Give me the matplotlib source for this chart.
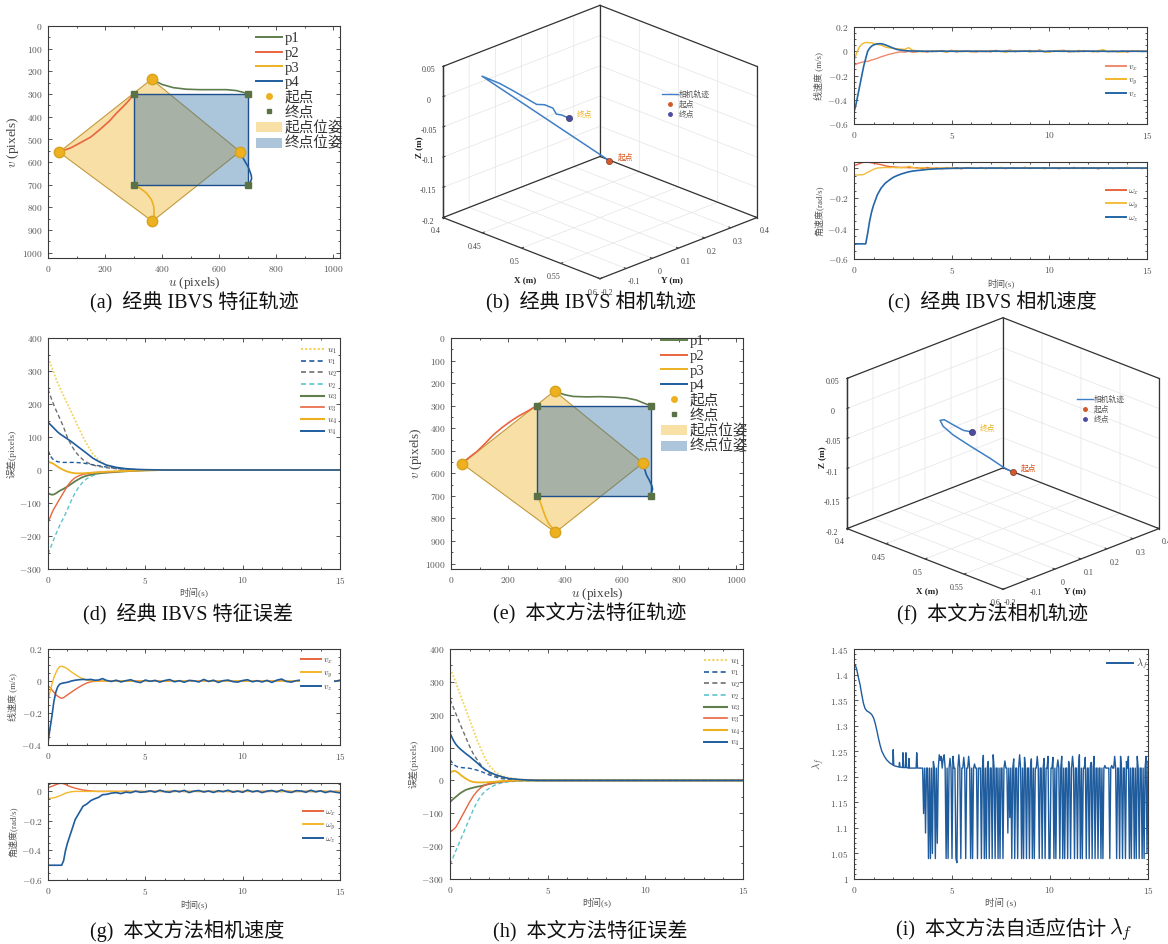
import numpy as np
import matplotlib
matplotlib.use('Agg')
import matplotlib.pyplot as plt
from matplotlib.patches import Polygon, Patch
from matplotlib.lines import Line2D
from matplotlib.ticker import AutoMinorLocator, FuncFormatter

plt.rcParams['font.family'] = ['Liberation Serif', 'Noto Sans CJK SC']
plt.rcParams['mathtext.fontset'] = 'cm'
plt.rcParams['axes.unicode_minus'] = True

# ======================= DATA =======================
# --- feature trajectories (pixels) ---
start_u = [363, 39, 366, 673]
start_v = [235, 557, 862, 554]
end_u = [700, 300, 300, 700]
end_v = [300, 300, 700, 700]

a_p1_u = [372, 400, 439, 485, 532, 580, 626, 660, 685, 700]
a_p1_v = [240, 258, 272, 279, 281, 281, 281, 285, 293, 300]
a_p2_u = [45, 80, 111, 150, 181, 215, 240, 260, 275, 288, 298]
a_p2_v = [553, 538, 517, 490, 458, 420, 385, 360, 341, 322, 302]
a_p3_u = [371, 372, 371, 363, 345, 322, 304]
a_p3_v = [850, 833, 796, 767, 737, 715, 703]
a_p4_u = [675, 685, 694, 702, 708, 713, 714, 708, 700]
a_p4_v = [560, 585, 605, 622, 642, 660, 675, 693, 700]

e_p1_u = [372, 400, 429, 475, 522, 570, 615, 650, 675, 695]
e_p1_v = [240, 252, 259, 261, 260, 262, 266, 275, 288, 298]
e_p2_u = [44, 65, 91, 120, 149, 178, 207, 236, 266, 285, 298]
e_p2_v = [550, 528, 503, 467, 429, 398, 371, 347, 326, 312, 302]
e_p3_u = [365, 352, 341, 332, 324, 318, 312, 305, 300]
e_p3_v = [856, 838, 819, 795, 768, 745, 724, 708, 701]
e_p4_u = [674, 679, 685, 696, 705, 707, 705, 700]
e_p4_v = [555, 580, 606, 632, 657, 670, 679, 695]

# --- camera trajectories (m) ---
b_X = [0.512, 0.416, 0.427, 0.435, 0.460, 0.464, 0.469, 0.475, 0.481, 0.486]
b_Y = [0.100, -0.099, -0.064, -0.037, -0.022, -0.004, 0.013, 0.008, 0.011, 0.024]
b_Z = [-0.100, 0.025, 0.0125, 0.000, -0.0125, -0.014, -0.020, -0.026, -0.025, -0.030]

f_X = [0.512, 0.503, 0.495, 0.482, 0.470, 0.464, 0.462, 0.466, 0.478, 0.491, 0.494]
f_Y = [0.101, 0.092, 0.066, 0.029, -0.001, -0.022, -0.028, -0.024, -0.025, -0.025, -0.002]
f_Z = [-0.100, -0.095, -0.080, -0.060, -0.0425, -0.0275, -0.0175, -0.015, -0.0175, -0.020, -0.025]

x3_ticks = [0.4, 0.45, 0.5, 0.55, 0.6]
y3_ticks = [-0.2, -0.1, 0, 0.1, 0.2, 0.3, 0.4]
z3_ticks = [-0.2, -0.15, -0.1, -0.05, 0, 0.05]

# --- camera velocities ---
t_vel = [0, 0.1, 0.2, 0.3, 0.4, 0.5, 0.6, 0.7, 0.8, 0.9, 1.0, 1.2, 1.4, 1.6, 1.8, 2.0, 2.2, 2.4, 2.6, 2.8, 3.0]
t_tail = np.arange(3.25, 15.001, 0.25)

c_vx = [-0.115, -0.108, -0.100, -0.095, -0.090, -0.088, -0.082, -0.085, -0.078, -0.072, -0.068, -0.058, -0.045, -0.035, -0.025, -0.018, -0.010, -0.005, -0.008, 0.000, -0.010]
c_vy = [-0.080, -0.030, 0.010, 0.040, 0.058, 0.068, 0.072, 0.073, 0.068, 0.072, 0.062, 0.055, 0.050, 0.035, 0.028, 0.025, 0.020, 0.018, 0.015, 0.030, 0.008]
c_vz = [-0.500, -0.440, -0.360, -0.280, -0.200, -0.120, -0.060, 0.000, 0.025, 0.042, 0.052, 0.062, 0.062, 0.053, 0.040, 0.026, 0.015, 0.009, 0.005, 0.003, 0.002]
c_vx_tail = [-5, 3, -8, 5, -2, 6, -4, 8, -6, 2, 5, -3, -7, 4, 1, -6, 8, -3, 2, 10, -5, 3, -2, 7, -4, 12, -6, 2, -3, 5, 8, -7, 2, -4, 6, -2, 3, -5, 9, -3, 4, -6, 2, -8, 5, -2, 3, -4]
c_vy_tail = [4, -6, 2, -3, 5, -2, -8, 3, 6, -4, 2, -7, 4, 1, -5, 6, -3, 2, -9, 4, 3, -2, 5, -6, 2, 4, -3, -8, 3, 6, -2, 4, -5, 8, -3, 2, -6, 5, 12, -4, 2, -3, -7, 4, -2, 5, -3, 2]
c_vz_tail = [1, 0, 0, -1, 0, 1, 0, 0, -1, 0, 0, 1, 0, -1, 0, 0, 1, 0, 0, -1, 0, 0, 1, 0, 0, 0, -1, 0, 1, 0, 0, 0, -1, 0, 0, 1, 0, 0, 0, -1, -2, 0, 1, 0, 0, 0, -1, 0]

c_wx = [0.017, 0.020, 0.025, 0.030, 0.035, 0.038, 0.040, 0.040, 0.037, 0.035, 0.032, 0.027, 0.022, 0.015, 0.010, 0.008, 0.006, 0.004, 0.005, 0.002, 0.003]
c_wy = [-0.043, -0.045, -0.046, -0.045, -0.044, -0.042, -0.035, -0.028, -0.022, -0.015, -0.008, 0.000, 0.002, 0.004, 0.003, 0.004, 0.002, 0.003, 0.002, 0.012, 0.004]
c_wz = [-0.500, -0.500, -0.500, -0.500, -0.500, -0.500, -0.500, -0.430, -0.350, -0.290, -0.245, -0.175, -0.130, -0.100, -0.080, -0.062, -0.050, -0.040, -0.032, -0.025, -0.020]
c_wx_tail = [2, -3, 4, -2, 1, -4, 3, -1, 2, -5, 3, 1, -2, 4, -3, 2, -1, 3, -4, 2, 1, -2, 5, -3, 2, -1, 3, -2, 1, -4, 2, -3, 4, -1, 2, -2, 3, -5, 2, 1, -3, 2, -1, 4, -2, 1, -3, 2]
c_wy_tail = [-2, 4, -3, 1, -4, 2, -1, 3, -5, 2, -2, 3, -1, 2, -4, 1, -3, 5, -2, 1, -3, 2, -1, 4, -2, 3, -5, 1, -2, 3, -1, 2, -3, 1, -4, 2, -2, 3, -1, 2, -3, 1, -2, 4, -1, 2, -3, 1]
c_wz_tail = [-16, -13, -9, -7, -5, -4, -3, -2, -1, -1, 0, 0, -1, 0, 0, 0, 0, 0, 0, 0, 0, 0, 0, 0, 0, 0, 0, 0, 0, 0, 0, 0, 0, 0, 0, 0, 0, 0, 0, 0, 0, 0, 0, 0, 0, 0, 0, 0]

g_vx = [-0.030, -0.040, -0.055, -0.070, -0.085, -0.095, -0.103, -0.108, -0.104, -0.095, -0.087, -0.070, -0.053, -0.038, -0.024, -0.012, -0.005, -0.002, 0.000, 0.000, 0.001]
g_vy = [-0.120, -0.070, -0.020, 0.020, 0.050, 0.075, 0.090, 0.092, 0.088, 0.083, 0.076, 0.057, 0.040, 0.025, 0.014, 0.006, 0.002, 0.000, -0.002, 0.000, -0.001]
g_vz = [-0.383, -0.300, -0.220, -0.130, -0.070, -0.036, -0.020, -0.015, -0.012, -0.010, -0.008, 0.000, 0.005, 0.008, 0.010, 0.008, 0.010, 0.005, 0.006, 0.015, 0.004]
g_vx_tail = [1, -1, 2, 0, -1, 1, 0, 2, -1, 0, 1, -2, 0, 1, 0, -1, 2, 0, -1, 1, 0, -1, 1, 2, 0, -1, 0, 1, -2, 0, 1, 0, -1, 1, 0, 2, -1, 0, 1, -1, 0, 1, -1, 0, 2, 0, -1, 1]
g_vy_tail = [-1, 0, 1, -1, 0, -2, 1, 0, -1, 1, 0, -1, 0, 1, -2, 0, 1, 0, -1, 0, 1, -1, 0, 0, 1, -1, 2, 0, -1, 0, 0, 1, -1, 0, 0, -1, 1, 0, 0, -1, 1, 0, -1, 0, 1, 0, 0, -1]
g_vz_tail = [-3, 5, -6, 2, 8, -4, -10, 6, -2, 4, -7, 3, 9, -5, 2, -8, 4, 1, -6, 10, -3, 5, -9, 2, 6, -4, -7, 3, 8, -5, 2, -6, 4, -9, 5, 12, -3, -7, 2, 6, -4, 8, -5, 3, -8, 4, -2, 5]

g_wx = [0.025, 0.030, 0.035, 0.040, 0.045, 0.050, 0.054, 0.055, 0.052, 0.047, 0.040, 0.030, 0.022, 0.015, 0.010, 0.006, 0.003, 0.001, 0.000, 0.000, 0.000]
g_wy = [-0.045, -0.046, -0.045, -0.043, -0.040, -0.035, -0.030, -0.024, -0.018, -0.012, -0.008, -0.002, 0.000, 0.000, 0.000, 0.000, 0.000, 0.000, 0.000, 0.000, 0.000]
g_wz = [-0.500, -0.500, -0.500, -0.500, -0.500, -0.500, -0.500, -0.500, -0.470, -0.400, -0.350, -0.270, -0.190, -0.145, -0.100, -0.085, -0.062, -0.050, -0.040, -0.022, -0.020]
g_wx_tail = [1, -1, 0, 2, -1, 0, 1, -2, 0, 1, 0, -1, 1, 0, 2, -1, 0, 1, -1, 0, 1, 0, -2, 1, 0, -1, 1, 0, 2, -1, 0, 1, -1, 0, 1, -1, 2, 0, -1, 0, 1, -1, 0, 1, 0, -2, 1, 0]
g_wy_tail = [0, 1, -1, 0, 1, 0, -1, 1, 0, -1, 0, 1, 0, -1, 1, 0, 0, -1, 1, 0, -1, 0, 1, 0, -1, 1, 0, 0, -1, 1, 0, -1, 0, 1, 0, -1, 1, 0, 0, -1, 1, 0, -1, 0, 1, 0, -1, 0]
g_wz_tail = [-12, -8, -15, -5, -9, 2, -6, -3, 4, -5, 8, -2, -6, 5, -3, 7, -8, 2, 6, -4, 3, -7, 5, -2, 8, -5, 2, -6, 9, -3, 4, -8, 2, 6, -4, 10, -2, -7, 5, 3, -6, 8, -3, 4, -8, 2, -5, -10]

# --- feature errors (pixels) ---
t_err = [0, 0.1, 0.2, 0.3, 0.4, 0.5, 0.6, 0.8, 1.0, 1.2, 1.4, 1.6, 1.8, 2.0, 2.3, 2.6, 3.0, 3.5, 4.0, 4.5, 5.0, 6.0, 15.0]
err_labels = ['$u_1$', '$v_1$', '$u_2$', '$v_2$', '$u_3$', '$v_3$', '$u_4$', '$v_4$']

d_u1 = [340, 325, 310, 295, 278, 264, 250, 225, 200, 175, 150, 124, 100, 78, 50, 30, 14, 6, 3, 1, 0, 0, 0]
d_v1 = [60, 45, 36, 30, 27, 25, 24, 23, 23, 23, 23, 22, 21, 19, 16, 13, 9, 5, 3, 1, 0, 0, 0]
d_u2 = [245, 228, 212, 197, 183, 170, 157, 130, 98, 75, 56, 42, 31, 23, 15, 11, 7, 4, 2, 1, 0, 0, 0]
d_v2 = [-255, -240, -225, -210, -195, -182, -168, -145, -120, -92, -68, -50, -36, -26, -17, -11, -7, -4, -2, -1, 0, 0, 0]
d_u3 = [-70, -73, -75, -74, -71, -67, -63, -57, -50, -42, -34, -27, -21, -17, -13, -10, -8, -6, -4, -2, -1, 0, 0]
d_v3 = [-160, -145, -130, -118, -108, -98, -88, -68, -48, -33, -23, -17, -13, -11, -8, -7, -6, -5, -3, -2, -1, 0, 0]
d_u4 = [25, 23, 21, 18, 14, 10, 6, 0, -5, -8, -10, -10, -10, -9, -8, -7, -5, -4, -3, -2, -1, 0, 0]
d_v4 = [145, 139, 133, 127, 121, 115, 110, 102, 94, 86, 77, 68, 59, 50, 36, 26, 15, 8, 4, 2, 1, 0, 0]

h_u1 = [340, 328, 313, 298, 281, 265, 249, 217, 185, 153, 121, 93, 66, 45, 27, 15, 8, 4, 2, 1, 0, 0, 0]
h_v1 = [63, 55, 48, 44, 41, 40, 39, 38, 37, 34, 31, 27, 22, 17, 11, 6, 3, 1, 0, 0, 0, 0, 0]
h_u2 = [246, 232, 218, 203, 189, 174, 160, 132, 104, 80, 62, 46, 32, 22, 14, 8, 5, 2, 1, 0, 0, 0, 0]
h_v2 = [-257, -243, -228, -214, -200, -186, -172, -144, -116, -88, -64, -46, -33, -24, -14, -8, -4, -2, -1, 0, 0, 0, 0]
h_u3 = [-66, -60, -55, -50, -45, -40, -36, -29, -25, -22, -19, -17, -14, -11, -7, -4, -2, 0, 0, 0, 0, 0, 0]
h_v3 = [-158, -153, -148, -142, -132, -121, -110, -88, -66, -47, -32, -21, -14, -10, -6, -4, -2, 0, 0, 0, 0, 0, 0]
h_u4 = [24, 27, 29, 28, 24, 19, 14, 6, -1, -5, -6, -6, -6, -5, -4, -2, -1, 0, 0, 0, 0, 0, 0]
h_v4 = [144, 131, 119, 110, 103, 97, 92, 82, 73, 63, 53, 42, 33, 26, 18, 12, 6, 3, 1, 0, 0, 0, 0]

# --- adaptive estimate lambda_f ---
lam_t_early = [0, 0.07, 0.14, 0.22, 0.31, 0.4, 0.48, 0.56, 0.65, 0.78, 0.9, 1.0, 1.08, 1.17, 1.25, 1.33, 1.42, 1.55, 1.67, 1.83, 1.98, 2.0, 2.03, 2.1, 2.3, 2.32, 2.35, 2.48, 2.5, 2.53, 2.62, 2.65, 2.68, 2.78, 2.8, 2.83, 3.17, 3.2, 3.24, 3.4]
lam_early = [1.421, 1.418, 1.41, 1.395, 1.38, 1.36, 1.344, 1.334, 1.329, 1.326, 1.322, 1.315, 1.305, 1.29, 1.275, 1.262, 1.25, 1.24, 1.233, 1.227, 1.223, 1.253, 1.222, 1.221, 1.219, 1.228, 1.219, 1.218, 1.247, 1.218, 1.218, 1.247, 1.218, 1.217, 1.236, 1.217, 1.217, 1.247, 1.217, 1.217]
lam_switch = [
    1.217, 1.217, 1.128, 1.217, 1.090, 1.217, 1.217, 1.040, 1.217, 1.040, 1.217, 1.050, 1.230, 1.217, 1.040, 1.217, 1.070, 1.217, 1.243, 1.232,
    1.240, 1.217, 1.236, 1.243, 1.217, 1.040, 1.217, 1.040, 1.217, 1.236, 1.217, 1.040, 1.240, 1.217, 1.217, 1.040, 1.032, 1.217, 1.243, 1.217,
    1.040, 1.217, 1.217, 1.238, 1.217, 1.040, 1.217, 1.217, 1.240, 1.217, 1.040, 1.217, 1.040, 1.217, 1.225, 1.217, 1.217, 1.040, 1.217, 1.217,
    1.217, 1.040, 1.217, 1.242, 1.040, 1.217, 1.040, 1.217, 1.230, 1.040, 1.217, 1.217, 1.040, 1.243, 1.217, 1.040, 1.217, 1.217, 1.040, 1.217,
    1.040, 1.217, 1.217, 1.040, 1.217, 1.231, 1.217, 1.217, 1.090, 1.217, 1.120, 1.217, 1.040, 1.217, 1.235, 1.040, 1.217, 1.217, 1.040, 1.217,
    1.243, 1.217, 1.040, 1.217, 1.040, 1.238, 1.217, 1.040, 1.217, 1.217, 1.040, 1.217, 1.235, 1.040, 1.217, 1.040, 1.217, 1.217, 1.240, 1.217,
    1.040, 1.217, 1.217, 1.040, 1.217, 1.236, 1.040, 1.217, 1.217, 1.240, 1.040, 1.040, 1.217, 1.217, 1.238, 1.040, 1.217, 1.040, 1.217, 1.233,
    1.217, 1.040, 1.217, 1.240, 1.040, 1.217, 1.040, 1.217, 1.217, 1.040, 1.230, 1.217, 1.040, 1.217, 1.240, 1.217, 1.040, 1.217, 1.217, 1.040,
    1.217, 1.243, 1.040, 1.217, 1.040, 1.217, 1.217, 1.238, 1.040, 1.217, 1.217, 1.040, 1.217, 1.228, 1.040, 1.217, 1.240, 1.040, 1.217, 1.217,
    1.040, 1.217, 1.217, 1.040, 1.217, 1.040, 1.217, 1.222, 1.217, 1.217, 1.217, 1.217, 1.040, 1.217, 1.222, 1.217, 1.217, 1.240, 1.217, 1.040,
    1.217, 1.217, 1.040, 1.240, 1.217, 1.040, 1.217, 1.217, 1.040, 1.230, 1.217, 1.240, 1.040, 1.217, 1.040, 1.217, 1.217, 1.040, 1.217, 1.040,
    1.240, 1.217, 1.040, 1.217, 1.217, 1.040, 1.217, 1.040, 1.217, 1.240, 1.050, 1.230]
lam_switch_t0, lam_switch_t1 = 3.45, 15.0

captions = ['(a)  经典 IBVS 特征轨迹', '(b)  经典 IBVS 相机轨迹', '(c)  经典 IBVS 相机速度',
            '(d)  经典 IBVS 特征误差', '(e)  本文方法特征轨迹', '(f)  本文方法相机轨迹',
            '(g)  本文方法相机速度', '(h)  本文方法特征误差', '(i)  本文方法自适应估计']

# ======================= STYLE =======================
W, H = 1168, 944
fig = plt.figure(figsize=(W / 100, H / 100), dpi=100)
CJK = ['Noto Sans CJK SC', 'DejaVu Sans']
SERIF = ['Liberation Serif', 'Noto Sans CJK SC']
TICK_C = '#555555'
BLUE = '#1F5C9E'
ORANGE = '#E8653F'
YELLOW = '#EDB120'
GREEN = '#5E7D4C'


def px_rect(x0, y0, x1, y1):
    return [x0 / W, 1 - y1 / H, (x1 - x0) / W, (y1 - y0) / H]


def fpt(x, y):
    return (x / W, 1 - y / H)


math_fmt = FuncFormatter(lambda v, p: '$%s$' % ('%g' % round(v, 6)))


def style2d(ax, xminor, yminor, fs=6.8):
    for s in ax.spines.values():
        s.set_color('#3a3a3a')
        s.set_linewidth(0.8)
    ax.tick_params(which='both', direction='in', top=True, right=True, color='#3a3a3a',
                   labelcolor=TICK_C, labelsize=fs, width=0.6)
    ax.tick_params(which='major', length=3.0, pad=4)
    ax.tick_params(which='minor', length=1.6)
    ax.xaxis.set_minor_locator(AutoMinorLocator(xminor))
    ax.yaxis.set_minor_locator(AutoMinorLocator(yminor))
    ax.xaxis.set_major_formatter(math_fmt)
    ax.yaxis.set_major_formatter(math_fmt)


def small_legend(ax, handles, labels, xy, fs=6.5, spacing=0.3, hl=2.2, frame=False):
    leg = ax.legend(handles, labels, loc='upper left', bbox_to_anchor=fpt(*xy),
                    bbox_transform=fig.transFigure, frameon=frame, fontsize=fs,
                    handlelength=hl, handletextpad=0.3, labelspacing=spacing,
                    borderpad=0.1, borderaxespad=0, facecolor='white', edgecolor='none',
                    framealpha=1.0)
    for t in leg.get_texts():
        t.set_color('#444444')
    return leg


# ---------------- feature trajectory panels ----------------
def feature_panel(rect, paths, leg_xy):
    ax = fig.add_axes(px_rect(*rect))
    sp = np.column_stack([start_u, start_v])
    ep = np.column_stack([end_u, end_v])
    ax.add_patch(Polygon(sp, closed=True, facecolor=YELLOW, alpha=0.4, edgecolor='none', zorder=1))
    ax.add_patch(Polygon(sp, closed=True, fill=False, edgecolor='#C39A3C', lw=0.8, zorder=1.5))
    ax.add_patch(Polygon(ep, closed=True, facecolor='#2F6EA5', alpha=0.4, edgecolor='none', zorder=2))
    ax.add_patch(Polygon(ep, closed=True, fill=False, edgecolor='#1F4E8C', lw=1.0, zorder=2.5))
    colors = [GREEN, ORANGE, YELLOW, BLUE]
    for (pu, pv), c in zip(paths, colors):
        ax.plot(pu, pv, color=c, lw=1.2, zorder=3)
    ax.plot(start_u, start_v, 'o', ms=7.5, color=YELLOW, mec='#D8A21E', ls='none', zorder=4)
    ax.plot(end_u, end_v, 's', ms=4.3, color='#5A7246', ls='none', zorder=4)
    ax.set_xlim(0, 1024)
    ax.set_ylim(1024, 0)
    ax.set_xticks(np.arange(0, 1001, 200))
    ax.set_yticks(np.arange(0, 1001, 100))
    style2d(ax, 2, 2)
    ax.set_xlabel('$u$ (pixels)', fontsize=9.5, color='#444', labelpad=1)
    ax.set_ylabel('$v$ (pixels)', fontsize=9.5, color='#444', labelpad=1)
    handles = [Line2D([], [], color=c, lw=1.4) for c in colors] + [
        Line2D([], [], marker='o', ls='none', color=YELLOW, ms=4),
        Line2D([], [], marker='s', ls='none', color='#5A7246', ms=3.5),
        Patch(facecolor='#F8E0A6', edgecolor='none'),
        Patch(facecolor='#ACC5DB', edgecolor='none')]
    labels = ['p1', 'p2', 'p3', 'p4', '起点', '终点', '起点位姿', '终点位姿']
    leg = ax.legend(handles, labels, loc='upper left', bbox_to_anchor=fpt(*leg_xy),
                    bbox_transform=fig.transFigure, frameon=False, fontsize=10.5,
                    handlelength=1.75, handletextpad=0.2, labelspacing=0.1,
                    borderpad=0, borderaxespad=0)
    for t in leg.get_texts():
        t.set_color('#333333')
    return ax


feature_panel((48, 26, 340, 258),
              [(a_p1_u, a_p1_v), (a_p2_u, a_p2_v), (a_p3_u, a_p3_v), (a_p4_u, a_p4_v)], (256, 32))
feature_panel((451, 338, 743, 569),
              [(e_p1_u, e_p1_v), (e_p2_u, e_p2_v), (e_p3_u, e_p3_v), (e_p4_u, e_p4_v)], (661, 335))


# ---------------- velocity panels ----------------
def velocity_panel(top_rect, bot_rect, lin, ang, top_ylim, bot_ylim, top_leg, bot_leg, lin_colors, ang_colors):
    axt = fig.add_axes(px_rect(*top_rect))
    axb = fig.add_axes(px_rect(*bot_rect))
    t_all = np.concatenate([t_vel, t_tail])
    for (tr, tail), c, lw in zip(lin, lin_colors, [1.0, 1.0, 1.2]):
        axt.plot(t_all, np.concatenate([tr, np.array(tail) / 1000.0]), color=c, lw=lw)
    for (tr, tail), c, lw in zip(ang, ang_colors, [1.0, 1.0, 1.2]):
        axb.plot(t_all, np.concatenate([tr, np.array(tail) / 1000.0]), color=c, lw=lw)
    axt.set_xlim(0, 15)
    axb.set_xlim(0, 15)
    axt.set_ylim(*top_ylim)
    axb.set_ylim(*bot_ylim)
    axt.set_xticks([0, 5, 10, 15])
    axb.set_xticks([0, 5, 10, 15])
    axt.set_yticks(np.arange(top_ylim[0], top_ylim[1] + 1e-6, 0.2))
    axb.set_yticks([-0.6, -0.4, -0.2, 0])
    style2d(axt, 5, 4)
    style2d(axb, 5, 4)
    axt.set_ylabel('线速度 (m/s)', fontsize=6.5, color='#555', family=SERIF, labelpad=3)
    axb.set_ylabel('角速度(rad/s)', fontsize=6.5, color='#555', family=SERIF, labelpad=3)
    axb.set_xlabel('时间(s)', fontsize=6.5, color='#555', family=SERIF, labelpad=2)
    small_legend(axt, [Line2D([], [], color=c, lw=1.4) for c in lin_colors],
                 ['$v_x$', '$v_y$', '$v_z$'], top_leg, spacing=0.35, frame=True)
    small_legend(axb, [Line2D([], [], color=c, lw=1.4) for c in ang_colors],
                 [r'$\omega_x$', r'$\omega_y$', r'$\omega_z$'], bot_leg, spacing=0.35, frame=True)


velocity_panel((854, 27, 1147, 124), (854, 162, 1147, 259),
               [(c_vx, c_vx_tail), (c_vy, c_vy_tail), (c_vz, c_vz_tail)],
               [(c_wx, c_wx_tail), (c_wy, c_wy_tail), (c_wz, c_wz_tail)],
               (-0.6, 0.2), (-0.6, 0.04), (1105, 62), (1105, 186),
               ['#EE8A6C', '#F2B82A', '#2466A6'], [ORANGE, '#F2BE3A', '#2466A6'])
velocity_panel((48, 649, 340, 745), (48, 783, 340, 880),
               [(g_vx, g_vx_tail), (g_vy, g_vy_tail), (g_vz, g_vz_tail)],
               [(g_wx, g_wx_tail), (g_wy, g_wy_tail), (g_wz, g_wz_tail)],
               (-0.4, 0.2), (-0.6, 0.057), (300, 655), (302, 807),
               [ORANGE, '#F2B82A', BLUE], [ORANGE, '#F2B82A', BLUE])


# ---------------- feature error panels ----------------
def error_panel(rect, series, leg_xy):
    ax = fig.add_axes(px_rect(*rect))
    styles = [((0, (1, 1)), '#F3D35E', 1.3), ((0, (3, 2)), '#1F5C9E', 1.0),
              ((0, (3, 2)), '#6E6E6E', 1.0), ((0, (3, 2)), '#5CC3CC', 1.0),
              ('-', '#607F4E', 1.3), ('-', ORANGE, 1.0), ('-', YELLOW, 1.3), ('-', BLUE, 1.2)]
    handles = []
    for s, (ls, c, lw) in zip(series, styles):
        ax.plot(t_err, s, ls=ls, color=c, lw=lw)
        handles.append(Line2D([], [], ls=ls, color=c, lw=lw + 0.2))
    ax.set_xlim(0, 15)
    ax.set_ylim(-300, 400)
    ax.set_xticks([0, 5, 10, 15])
    ax.set_yticks(np.arange(-300, 401, 100))
    style2d(ax, 5, 2)
    ax.set_ylabel('误差(pixels)', fontsize=6.8, color='#555', family=SERIF, labelpad=2)
    ax.set_xlabel('时间(s)', fontsize=6.8, color='#555', family=SERIF, labelpad=2)
    small_legend(ax, handles, err_labels, leg_xy, spacing=0.2, hl=2.6)


error_panel((48, 338, 340, 569), [d_u1, d_v1, d_u2, d_v2, d_u3, d_v3, d_u4, d_v4], (300, 345))
error_panel((450, 649, 743, 879), [h_u1, h_v1, h_u2, h_v2, h_u3, h_v3, h_u4, h_v4], (703, 656))

# ---------------- lambda_f panel ----------------
axl = fig.add_axes(px_rect(854, 649, 1148, 879))
lam_t_sw = np.linspace(lam_switch_t0, lam_switch_t1, len(lam_switch))
axl.plot(np.concatenate([lam_t_early, lam_t_sw]), np.concatenate([lam_early, lam_switch]),
         color=BLUE, lw=1.0)
axl.set_xlim(0, 15)
axl.set_ylim(1.0, 1.45)
axl.set_xticks([0, 5, 10, 15])
axl.set_yticks(np.arange(1.0, 1.451, 0.05))
style2d(axl, 5, 5)
axl.set_ylabel(r'$\lambda_f$', fontsize=8, color='#555', labelpad=2)
axl.set_xlabel('时间 (s)', fontsize=6.8, color='#555', family=SERIF, labelpad=2)
small_legend(axl, [Line2D([], [], color=BLUE, lw=1.4)], [r'$\lambda_f$'], (1106, 656), fs=7.5, hl=2.5)


# ---------------- 3D camera trajectory panels ----------------
def proj_pts(ax, pts):
    M = ax.get_proj()
    out = []
    for (x, y, z) in pts:
        v = M @ np.array([x, y, z, 1.0])
        out.append((v[0] / v[3], v[1] / v[3]))
    return ax.transData.transform(np.array(out))


def fit3d(ax, left, right, top, bottom):
    fig.canvas.draw()
    corners = [(x, y, z) for x in ax.get_xlim() for y in ax.get_ylim() for z in ax.get_zlim()]
    P = proj_pts(ax, corners)
    l, r = P[:, 0].min(), P[:, 0].max()
    b, t = P[:, 1].min(), P[:, 1].max()
    bb = ax.bbox
    cx, cy = (bb.x0 + bb.x1) / 2, (bb.y0 + bb.y1) / 2
    k = (right - left) / (r - l)
    mx, my = (l + r) / 2, (b + t) / 2
    tx, ty = (left + right) / 2, H - (top + bottom) / 2
    size = bb.width * k
    ncx, ncy = tx - (mx - cx) * k, ty - (my - cy) * k
    ax.set_position([(ncx - size / 2) / W, (ncy - size / 2) / H, size / W, size / H])


def box_edges(ax):
    (x0, x1), (y0, y1), (z0, z1) = ax.get_xlim(), ax.get_ylim(), ax.get_zlim()
    kw = dict(color='#333333', lw=0.9, zorder=0.5)
    for (xs, ys, zs) in [((x0, x0), (y1, y1), (z0, z1)), ((x0, x0), (y0, y0), (z0, z1)),
                         ((x1, x1), (y1, y1), (z0, z1)), ((x0, x0), (y0, y1), (z1, z1)),
                         ((x0, x1), (y1, y1), (z1, z1)), ((x0, x0), (y0, y1), (z0, z0)),
                         ((x0, x1), (y1, y1), (z0, z0))]:
        ax.plot(xs, ys, zs, **kw)


def traj_panel(X, Y, Z, box, leg_xy, lab_pos):
    ax = fig.add_axes([0.3, 0.3, 0.3, 0.3], projection='3d')
    ax.patch.set_visible(False)
    ax.set_proj_type('ortho')
    ax.view_init(elev=22.9, azim=-45)
    ax.set_box_aspect((1, 1, 0.739))
    ax.set_xlim(0.4, 0.6)
    ax.set_ylim(-0.2, 0.4)
    ax.set_zlim(-0.2, 0.05)
    box_edges(ax)
    ax.plot(X, Y, Z, color='#3E7FC6', lw=1.1)
    ax.plot([X[0]], [Y[0]], [Z[0]], 'o', ms=4.5, color='#D4582A', mec='#6a3020', mew=0.4, ls='none')
    ax.plot([X[-1]], [Y[-1]], [Z[-1]], 'o', ms=4.5, color='#4B4CA0', mec='#2a2a50', mew=0.4, ls='none')
    ax.set_xlim(0.4, 0.6)
    ax.set_ylim(-0.2, 0.4)
    ax.set_zlim(-0.2, 0.05)
    ax.set_xticks(x3_ticks)
    ax.set_yticks(y3_ticks)
    ax.set_zticks(z3_ticks)
    ax.set_xticklabels(['%g' % v for v in x3_ticks])
    ax.set_yticklabels(['%g' % v for v in y3_ticks])
    ax.set_zticklabels(['%g' % v for v in z3_ticks])
    for axis in (ax.xaxis, ax.yaxis, ax.zaxis):
        axis.set_pane_color((1, 1, 1, 1))
        axis._axinfo['grid'].update(color='#e4e4e4', linewidth=0.5)
        axis._axinfo['tick'].update(inward_factor=0.0, outward_factor=0.15)
        axis.line.set_color('#333333')
        axis.line.set_linewidth(0.9)
        axis.set_tick_params(labelsize=5.8, colors='#444444', pad=-2)
    # put the z axis on the left vertical edge
    ax.zaxis.set_ticks_position('lower')
    fig.canvas.draw()
    bbx = ax.bbox
    zl = [t for t in ax.zaxis.get_ticklabels() if t.get_text()]
    if zl and zl[0].get_window_extent().x0 > (bbx.x0 + bbx.x1) / 2:
        ax.zaxis.set_ticks_position('upper')
    fit3d(ax, *box)
    fig.canvas.draw()
    ps = proj_pts(ax, [(X[0], Y[0], Z[0]), (X[-1], Y[-1], Z[-1])])
    fig.text((ps[0][0] + 8) / W, (ps[0][1] + 3) / H, '起点', color='#D95319', fontsize=5.6,
             family=CJK, ha='left', va='center')
    fig.text((ps[1][0] + 8) / W, (ps[1][1] + 3) / H, '终点', color='#EDB120', fontsize=5.6,
             family=CJK, ha='left', va='center')
    handles = [Line2D([], [], color='#3E7FC6', lw=1.0),
               Line2D([], [], marker='o', ls='none', color='#D4582A', ms=2.5),
               Line2D([], [], marker='o', ls='none', color='#4B4CA0', ms=2.5)]
    leg = ax.legend(handles, ['相机轨迹', '起点', '终点'], loc='upper left', bbox_to_anchor=fpt(*leg_xy),
                    bbox_transform=fig.transFigure, frameon=False, handlelength=2.0,
                    handletextpad=0.2, labelspacing=0.2, borderpad=0, borderaxespad=0,
                    prop={'family': CJK, 'size': 5.6})
    for t in leg.get_texts():
        t.set_color('#555555')
    (xl, yl), (xl2, yl2), (zl_x, zl_y) = lab_pos
    fig.text(xl / W, 1 - yl / H, 'X (m)', fontsize=6.5, fontweight='bold', ha='center', va='center', color='#222')
    fig.text(xl2 / W, 1 - yl2 / H, 'Y (m)', fontsize=6.5, fontweight='bold', ha='center', va='center', color='#222')
    fig.text(zl_x / W, 1 - zl_y / H, 'Z (m)', fontsize=6.5, fontweight='bold', ha='center', va='center',
             rotation=90, color='#222')
    return ax


traj_panel(b_X, b_Y, b_Z, (443, 757, 6, 278), (662, 91),
           ((525, 280), (672, 280), (419, 147)))
traj_panel(f_X, f_Y, f_Z, (847, 1159, 317, 590), (1077, 396),
           ((927, 591), (1075, 591), (822, 457)))

# ---------------- captions ----------------
cap_pos = [(194, 302), (591, 302), (992, 302), (188, 614), (590, 613), (993, 614),
           (187, 931), (590, 931), (1001, 929)]
for txt, (x, y) in zip(captions, cap_pos):
    fig.text(x / W, 1 - y / H, txt, fontsize=14.5, ha='center', va='center', family=SERIF, color='#111')
fig.text(1109 / W, 1 - 930 / H, r'$\lambda_f$', fontsize=16, ha='left', va='center', color='#111')

fig.savefig('out.png', dpi=100)
